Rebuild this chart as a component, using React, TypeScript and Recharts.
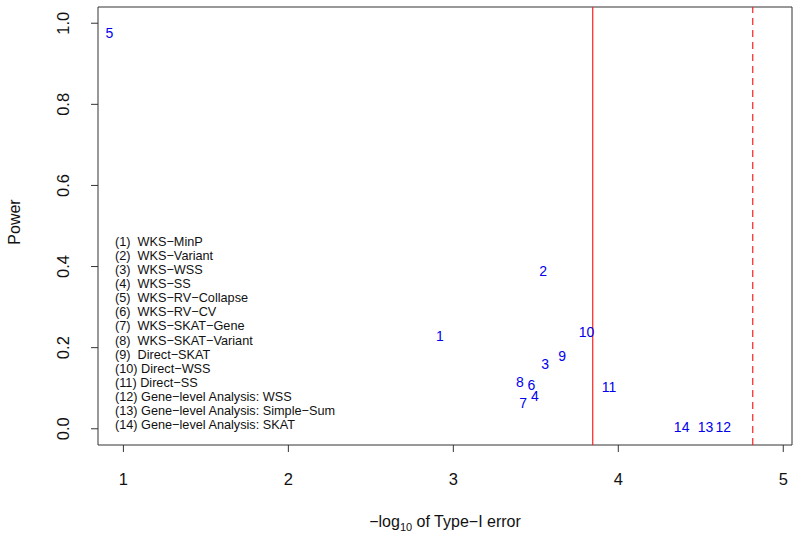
import { ScatterChart, Scatter, XAxis, YAxis, ReferenceLine, ReferenceArea } from "recharts";

// point labels (method ids) and their positions
const labels = ["1", "2", "3", "4", "5", "6", "7", "8", "9", "10", "11", "12", "13", "14"];
const negLogTypeI = [2.918, 3.545, 3.557, 3.494, 0.915, 3.474, 3.423, 3.403, 3.66, 3.808, 3.944, 4.636, 4.529, 4.384];
const power = [0.229, 0.39, 0.159, 0.082, 0.976, 0.108, 0.063, 0.115, 0.18, 0.239, 0.102, 0.004, 0.004, 0.004];

const methodNames = [
  "WKS−MinP",
  "WKS−Variant",
  "WKS−WSS",
  "WKS−SS",
  "WKS−RV−Collapse",
  "WKS−RV−CV",
  "WKS−SKAT−Gene",
  "WKS−SKAT−Variant",
  "Direct−SKAT",
  "Direct−WSS",
  "Direct−SS",
  "Gene−level Analysis: WSS",
  "Gene−level Analysis: Simple−Sum",
  "Gene−level Analysis: SKAT",
];

const xTicks = [1, 2, 3, 4, 5];
const yTicks = [0, 0.2, 0.4, 0.6, 0.8, 1.0];
const solidCutoff = 3.845;
const dashedCutoff = 4.815;

const xDomain: [number, number] = [0.846, 5.053];
const yDomain: [number, number] = [-0.04, 1.04];

const points = labels.map((label, i) => ({ x: negLogTypeI[i], y: power[i], label }));

const FONT = "'Liberation Sans', Arial, Helvetica, sans-serif";

const LabelShape = (props: any) => {
  const { cx, cy, payload } = props;
  return (
    <text x={cx} y={cy} textAnchor="middle" dominantBaseline="central" fill="#0000ee" fontSize={14} fontFamily={FONT}>
      {payload.label}
    </text>
  );
};

const YTick = (props: any) => {
  const { x, y, payload } = props;
  return (
    <text
      x={x}
      y={y}
      transform={`rotate(-90, ${x}, ${y})`}
      textAnchor="middle"
      dominantBaseline="central"
      fontSize={16.5}
      fill="#111"
      fontFamily={FONT}
    >
      {payload.value.toFixed(1)}
    </text>
  );
};

export default function App() {
  return (
    <div style={{ position: "relative", width: 800, height: 544, fontFamily: FONT, background: "#fff" }}>
      <style>{"body{margin:0}"}</style>
      <ScatterChart width={800} height={544} margin={{ top: 7, right: 8, bottom: 0, left: 0 }}>
        <XAxis
          type="number"
          dataKey="x"
          domain={xDomain}
          ticks={xTicks}
          allowDataOverflow
          height={99}
          axisLine={false}
          tickSize={7}
          tickMargin={21}
          tickLine={{ stroke: "#333" }}
          tick={{ fontSize: 16.5, fill: "#111", fontFamily: FONT }}
        />
        <YAxis
          type="number"
          dataKey="y"
          domain={yDomain}
          ticks={yTicks}
          allowDataOverflow
          width={98}
          axisLine={false}
          tickSize={7}
          tickMargin={28}
          tickLine={{ stroke: "#333" }}
          tick={<YTick />}
        />
        <ReferenceArea x1={xDomain[0]} x2={xDomain[1]} y1={yDomain[0]} y2={yDomain[1]} fill="none" stroke="#333" strokeWidth={1} />
        <ReferenceLine x={solidCutoff} stroke="#ff2020" strokeWidth={1.2} />
        <ReferenceLine x={dashedCutoff} stroke="#ff2020" strokeWidth={1.2} strokeDasharray="7 5" />
        <Scatter data={points} shape={<LabelShape />} isAnimationActive={false} />
      </ScatterChart>

      <div
        style={{
          position: "absolute",
          left: 115,
          top: 242 - 7.04,
          fontSize: 12.7,
          lineHeight: "14.08px",
          whiteSpace: "pre",
          color: "#111",
        }}
      >
        {methodNames.map((name, i) => {
          const tag = `(${i + 1})`;
          return <div key={name}>{(tag.length < 4 ? tag + "  " : tag + " ") + name}</div>;
        })}
      </div>

      <div
        style={{
          position: "absolute",
          left: 15,
          top: 222,
          transform: "translate(-50%, -50%) rotate(-90deg)",
          fontSize: 16,
          lineHeight: 1,
          color: "#111",
        }}
      >
        Power
      </div>

      <div
        style={{
          position: "absolute",
          left: 445,
          top: 522,
          transform: "translate(-50%, -50%)",
          fontSize: 16,
          lineHeight: 1,
          whiteSpace: "nowrap",
          color: "#111",
        }}
      >
        −log<span style={{ fontSize: 11, position: "relative", top: 4 }}>10</span> of Type−I error
      </div>
    </div>
  );
}
